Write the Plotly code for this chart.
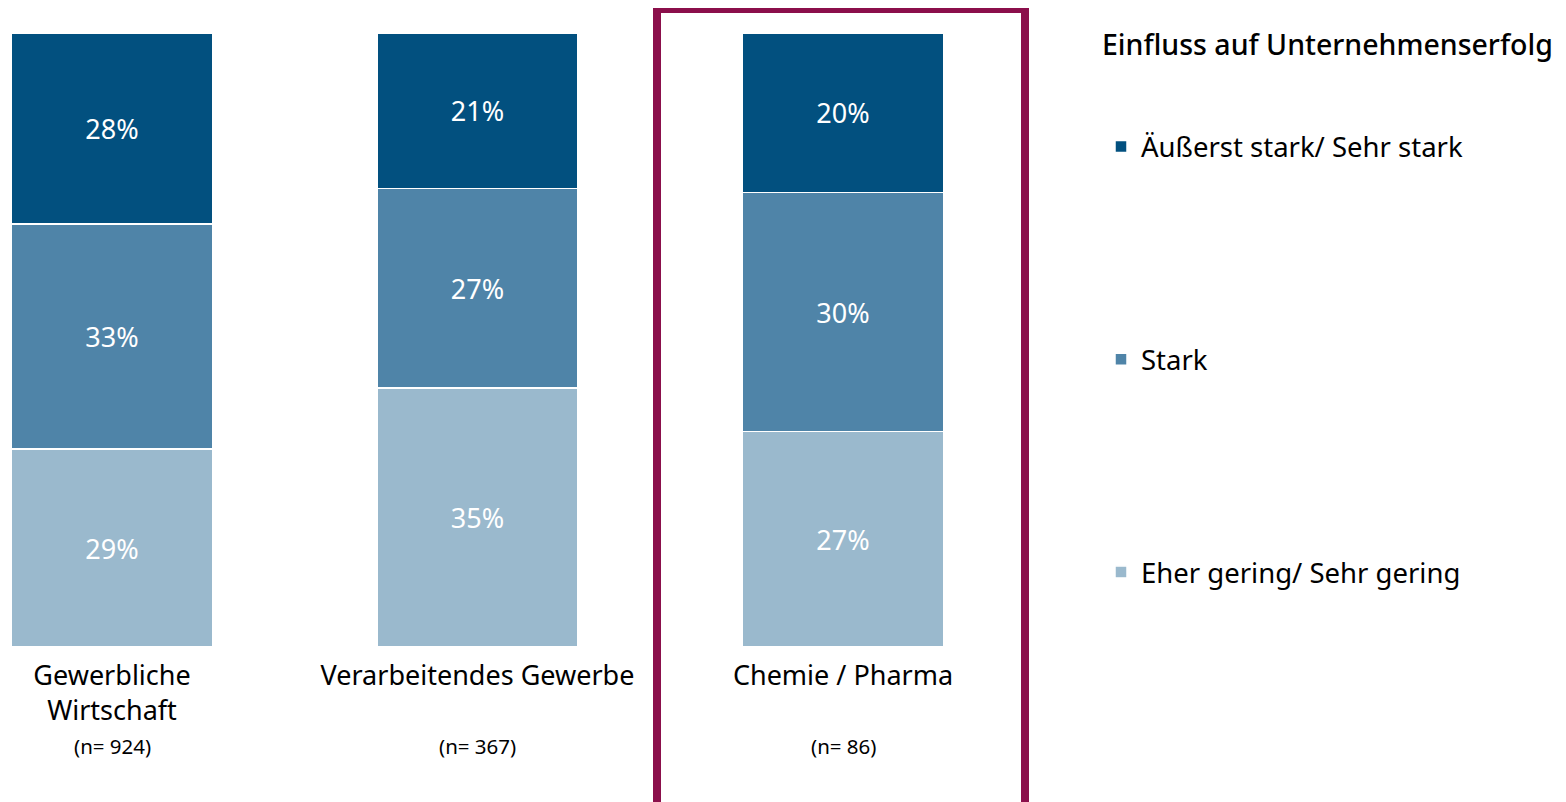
import plotly.graph_objects as go

categories = ["Gewerbliche<br>Wirtschaft", "Verarbeitendes Gewerbe", "Chemie / Pharma"]
sample_sizes = ["(n= 924)", "(n= 367)", "(n= 86)"]
series_names = ["Eher gering/ Sehr gering", "Stark", "Äußerst stark/ Sehr stark"]
series_values = {
    "Eher gering/ Sehr gering": [29, 35, 27],
    "Stark": [33, 27, 30],
    "Äußerst stark/ Sehr stark": [28, 21, 20],
}
series_colors = {
    "Eher gering/ Sehr gering": "#9AB9CD",
    "Stark": "#4F84A8",
    "Äußerst stark/ Sehr stark": "#02507F",
}
legend_title = "Einfluss auf Unternehmenserfolg"

W, H = 1566, 802
FONT = "Noto Sans"

fig = go.Figure()
for i, name in enumerate(series_names):
    vals = series_values[name]
    fig.add_trace(go.Bar(
        x=categories, y=vals, name=name,
        text=[f"{v}%" for v in vals],
        textposition="inside", insidetextanchor="middle",
        textfont=dict(color="white", size=27, family=FONT),
        marker=dict(color=series_colors[name], line=dict(color="white", width=1.5)),
        width=0.55, legendgroup=name, legendrank=len(series_names) - i,
    ))

fig.update_layout(
    width=W, height=H,
    barmode="stack", barnorm="percent",
    margin=dict(l=0, r=0, t=0, b=0),
    paper_bgcolor="white", plot_bgcolor="white",
    font=dict(family=FONT, color="black"),
    xaxis=dict(domain=[0, 1050 / W], range=[-104 / 365.5, (1050 - 104) / 365.5],
               showgrid=False, zeroline=False, showline=False, ticks="",
               ticklabelstandoff=10,
               tickfont=dict(size=27, family=FONT, color="black")),
    yaxis=dict(domain=[(H - 639) / H, (H - 25) / H], range=[0, 100], visible=False),
    showlegend=True,
    legend=dict(x=1093 / W, xanchor="left", y=1 - 114 / H, yanchor="top",
                traceorder="grouped", tracegroupgap=174,
                font=dict(size=27.5, family=FONT, color="black"),
                bgcolor="rgba(0,0,0,0)"),
)

fig.add_annotation(text=legend_title, xref="paper", yref="paper",
                   x=1092 / W, y=1 - 36 / H, xanchor="left", yanchor="middle",
                   showarrow=False, font=dict(size=28.5, family=FONT, color="black", weight=500))

for cat, n in zip(categories, sample_sizes):
    fig.add_annotation(text=n, x=cat, xref="x", yref="paper", y=1 - 738 / H,
                       yanchor="middle", showarrow=False,
                       font=dict(size=20.5, family=FONT, color="black"))

fig.add_shape(type="rect", xref="paper", yref="paper",
              x0=649 / W, x1=1017 / W, y0=-0.03, y1=1 - 1 / H,
              line=dict(color="#8B0F4B", width=8), fillcolor="rgba(0,0,0,0)", layer="above")

fig.write_html("out.html")
